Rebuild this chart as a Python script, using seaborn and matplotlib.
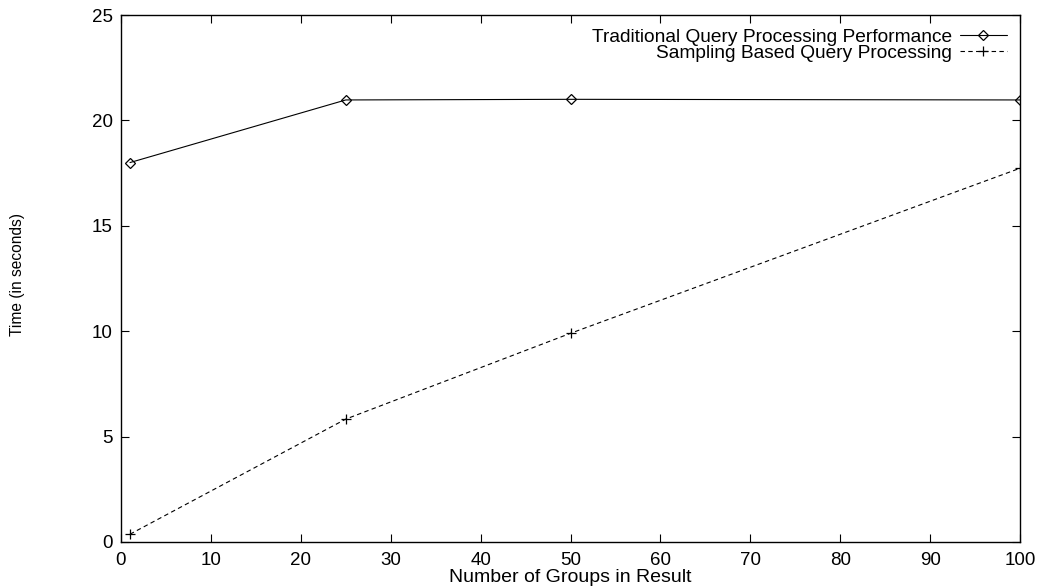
import matplotlib
matplotlib.use("Agg")
import matplotlib.pyplot as plt
import seaborn as sns
import pandas as pd

groups = [1, 25, 50, 100]
traditional = [18.0, 20.97, 21.0, 20.97]
sampling = [0.37, 5.83, 9.9, 17.73]
x_ticks = [0, 10, 20, 30, 40, 50, 60, 70, 80, 90, 100]
y_ticks = [0, 5, 10, 15, 20, 25]
label_trad = "Traditional Query Processing Performance"
label_samp = "Sampling Based Query Processing"

sns.set_style("ticks")
plt.rcParams['font.family'] = ['Liberation Sans', 'DejaVu Sans']
plt.rcParams['text.color'] = 'black'
plt.rcParams['axes.labelcolor'] = 'black'
plt.rcParams['xtick.color'] = 'black'
plt.rcParams['ytick.color'] = 'black'
plt.rcParams['axes.edgecolor'] = 'black'

df_t = pd.DataFrame({"groups": groups, "time": traditional})
df_s = pd.DataFrame({"groups": groups, "time": sampling})

fig = plt.figure(figsize=(10.43, 5.88), dpi=100)
ax = fig.add_axes([121 / 1043, 1 - 542 / 588, (1020 - 121) / 1043, (542 - 15) / 588])

sns.lineplot(data=df_t, x="groups", y="time", color="black", marker="D",
             markersize=5, markerfacecolor="none", markeredgecolor="black",
             markeredgewidth=0.9, linewidth=0.8, label=label_trad, ax=ax)
sns.lineplot(data=df_s, x="groups", y="time", color="black", marker="+",
             markersize=7, markeredgecolor="black", markeredgewidth=0.9, linewidth=0.8,
             linestyle=(0, (4, 3)), label=label_samp, ax=ax)

ax.set_xlim(0, 100)
ax.set_ylim(0, 25)
ax.set_xticks(x_ticks)
ax.set_yticks(y_ticks)
ax.tick_params(direction="in", length=6, width=0.8, labelsize=13.5, top=True, right=True)
ax.tick_params(axis="x", pad=7)
ax.tick_params(axis="y", pad=6)
for s in ax.spines.values():
    s.set_linewidth(1.0)
    s.set_visible(True)
ax.set_xlabel("Number of Groups in Result", fontsize=14)
ax.xaxis.set_label_coords(0.5, -(578 - 542) / (542 - 15), transform=ax.transAxes)
ax.xaxis.label.set_va("center")
ax.set_ylabel("Time (in seconds)", fontsize=11.2)
ax.yaxis.set_label_coords(-(121 - 17.5) / (1020 - 121), (542 - 274) / (542 - 15), transform=ax.transAxes)
ax.yaxis.label.set_va("center")

h, lab = ax.get_legend_handles_labels()
leg = ax.legend(h, lab, loc="upper right", frameon=False, markerfirst=False,
                fontsize=13.8, handlelength=2.45, borderaxespad=0.3, labelspacing=-0.08,
                handletextpad=0.4)

fig.savefig("out.png", dpi=100)
